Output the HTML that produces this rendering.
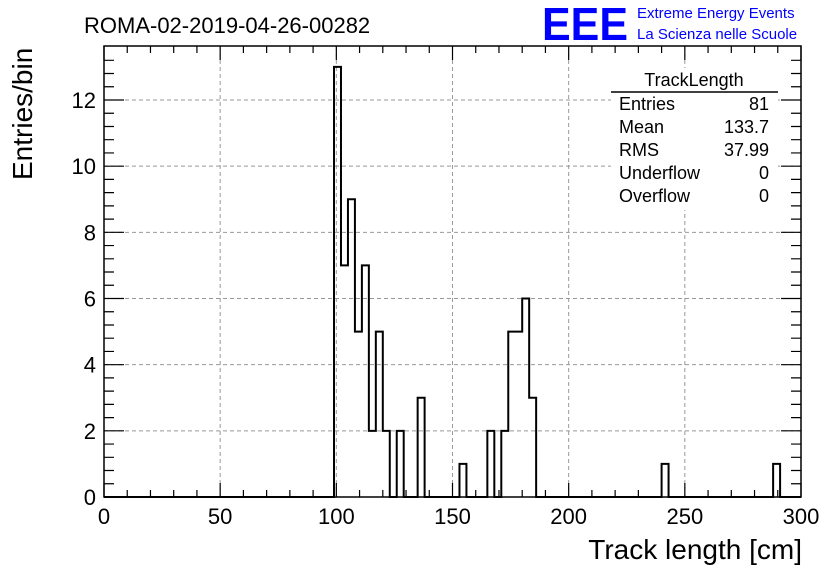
<!DOCTYPE html>
<html><head><meta charset="utf-8"><style>
body{margin:0;background:#fff;font-family:"Liberation Sans",sans-serif}
</style></head><body>
<svg id="c" width="836" height="572" xmlns="http://www.w3.org/2000/svg" font-family="Liberation Sans, sans-serif">
<text x="84" y="33" font-size="22">ROMA-02-2019-04-26-00282</text>
<text x="542" y="40" font-size="46" font-weight="bold" fill="#0000ff" textLength="86" lengthAdjust="spacingAndGlyphs">EEE</text>
<text x="637" y="18" font-size="15" fill="#0000ff">Extreme Energy Events</text>
<text x="637" y="39" font-size="15" fill="#0000ff">La Scienza nelle Scuole</text>
<g id="grid"></g>
<g id="ticks"></g>
<path id="hist" fill="none" stroke="#000" stroke-width="2"/>
<rect x="104" y="46" width="697" height="451" fill="none" stroke="#000" stroke-width="1.5"/>
<g id="labels" font-size="22"></g>
<text x="802" y="559" font-size="28" text-anchor="end">Track length [cm]</text>
<text transform="translate(32,180) rotate(-90)" font-size="28">Entries/bin</text>
<g font-size="18">
<rect x="611" y="68" width="167" height="142" fill="#fff"/>
<text x="694" y="86" text-anchor="middle">TrackLength</text>
<line x1="611" y1="92" x2="778" y2="92" stroke="#000" stroke-width="1.5"/>
<text x="619" y="110">Entries</text><text x="769" y="110" text-anchor="end">81</text>
<text x="619" y="133">Mean</text><text x="769" y="133" text-anchor="end">133.7</text>
<text x="619" y="156">RMS</text><text x="769" y="156" text-anchor="end">37.99</text>
<text x="619" y="179">Underflow</text><text x="769" y="179" text-anchor="end">0</text>
<text x="619" y="202">Overflow</text><text x="769" y="202" text-anchor="end">0</text>
</g>
</svg>
<script>
const binLow = [99,102,105,108,111,114,117,120,126,135,153,165,171,174,177,180,183,240,288];
const binCounts = [13,7,9,5,7,2,5,2,2,3,1,2,2,5,5,6,3,1,1];
const xTicks = [0,50,100,150,200,250,300];
const yTicks = [0,2,4,6,8,10,12];
const binWidth = 3;
const X0=104,X1=801,Y0=497,Y1=46;
const xs = v => X0 + v/300*(X1-X0);
const ys = v => Y0 - v*(Y0-100)/12;
const NS="http://www.w3.org/2000/svg";
function mk(tag, attrs, parent){const e=document.createElementNS(NS,tag);for(const k in attrs)e.setAttribute(k,attrs[k]);document.getElementById(parent).appendChild(e);return e;}
xTicks.forEach(t=>{
  if(t>0&&t<300){const g=mk('line',{x1:xs(t),x2:xs(t),y1:Y1,y2:Y0,stroke:'#999','stroke-dasharray':'4,3'},'grid');
  
  }
  const l=mk('text',{x:xs(t),y:524,'text-anchor':'middle'},'labels');l.textContent=t;
  
  
});
yTicks.forEach(t=>{
  if(t>0){const g=mk('line',{x1:X0,x2:X1,y1:ys(t),y2:ys(t),stroke:'#999','stroke-dasharray':'4,3'},'grid');
  
  }
  const l=mk('text',{x:96,y:ys(t)+8,'text-anchor':'end'},'labels');l.textContent=t;
  
  
});
let td='';
for(let v=0;v<=300;v+=10){const L=(v%50===0)?14:7;td+=`M${xs(v)},${Y0}v${-L}M${xs(v)},${Y1}v${L}`;}
for(let v=0;v<=13.6;v+=0.4){const major=Math.abs(v/2-Math.round(v/2))<1e-6;const L=major?20:10;td+=`M${X0},${ys(v)}h${L}M${X1},${ys(v)}h${-L}`;}
const tp=mk('path',{d:td,stroke:'#000','stroke-width':1.2,fill:'none'},'ticks');


const counts=new Array(100).fill(0);
binLow.forEach((lo,i)=>{counts[Math.round(lo/binWidth)]=binCounts[i];});
let d=`M${xs(0)},${ys(0)}`;
for(let i=0;i<100;i++){d+=`L${xs(i*binWidth)},${ys(counts[i])}L${xs((i+1)*binWidth)},${ys(counts[i])}`;}
document.getElementById('hist').setAttribute('d',d);
</script>
</body></html>
